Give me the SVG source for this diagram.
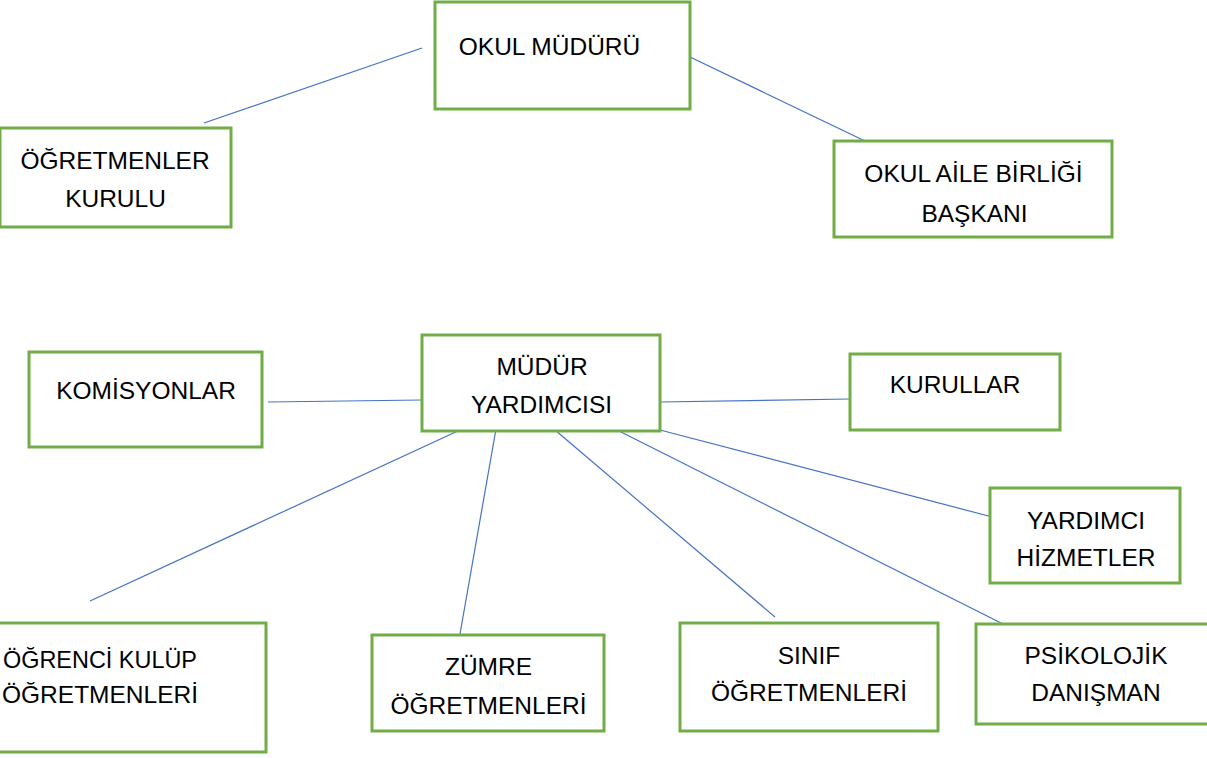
<svg xmlns="http://www.w3.org/2000/svg" width="1207" height="758" viewBox="0 0 1207 758">
<style>
.box{fill:#fff;stroke:#70AD47;stroke-width:3}
.t{font-family:"Liberation Sans",Arial,sans-serif;font-size:24.5px;fill:#000;text-anchor:middle}
.c line{stroke:#4472C4;stroke-width:1.2}
</style>
<rect width="1207" height="758" fill="#fff"/>
<g class="c" id="connectors">
<line x1="422" y1="48" x2="204" y2="123"/>
<line x1="690" y1="57" x2="865" y2="141"/>
<line x1="268" y1="402" x2="422" y2="400"/>
<line x1="660" y1="402" x2="850" y2="399"/>
<line x1="460" y1="430" x2="90" y2="601"/>
<line x1="496" y1="429" x2="460" y2="634"/>
<line x1="555" y1="430" x2="775" y2="617"/>
<line x1="617" y1="430" x2="1005" y2="625"/>
<line x1="660" y1="430" x2="1000" y2="519"/>
</g>
<g id="okul-muduru"><rect class="box" x="435" y="2" width="255" height="107"/><text class="t" x="549.5" y="55">OKUL MÜDÜRÜ</text></g>
<g id="ogretmenler-kurulu"><rect class="box" x="0" y="128" width="231" height="99"/><text class="t" x="115" y="169">ÖĞRETMENLER</text><text class="t" x="115.5" y="207">KURULU</text></g>
<g id="okul-aile"><rect class="box" x="834" y="141" width="278" height="96"/><text class="t" x="973.5" y="182">OKUL AİLE BİRLİĞİ</text><text class="t" x="974.5" y="222">BAŞKANI</text></g>
<g id="komisyonlar"><rect class="box" x="29" y="352" width="233" height="95"/><text class="t" x="146" y="399">KOMİSYONLAR</text></g>
<g id="mudur-yardimcisi"><rect class="box" x="422" y="335" width="238" height="96"/><text class="t" x="542" y="375">MÜDÜR</text><text class="t" x="541.5" y="413">YARDIMCISI</text></g>
<g id="kurullar"><rect class="box" x="850" y="354" width="210" height="76"/><text class="t" x="955" y="393">KURULLAR</text></g>
<g id="yardimci-hizmetler"><rect class="box" x="990" y="488" width="190" height="95"/><text class="t" x="1086" y="529">YARDIMCI</text><text class="t" x="1086" y="566">HİZMETLER</text></g>
<g id="ogrenci-kulup"><rect class="box" x="-10" y="623" width="276" height="129"/><text class="t" x="100" y="668" textLength="194" lengthAdjust="spacingAndGlyphs">ÖĞRENCİ KULÜP</text><text class="t" x="100" y="703">ÖĞRETMENLERİ</text></g>
<g id="zumre"><rect class="box" x="372" y="635" width="232" height="96"/><text class="t" x="488.5" y="675">ZÜMRE</text><text class="t" x="488.5" y="714">ÖĞRETMENLERİ</text></g>
<g id="sinif"><rect class="box" x="680" y="623" width="258" height="108"/><text class="t" x="809" y="664">SINIF</text><text class="t" x="809" y="701">ÖĞRETMENLERİ</text></g>
<g id="psikolojik"><rect class="box" x="976" y="624" width="240" height="100"/><text class="t" x="1096" y="664">PSİKOLOJİK</text><text class="t" x="1096" y="701">DANIŞMAN</text></g>
</svg>
